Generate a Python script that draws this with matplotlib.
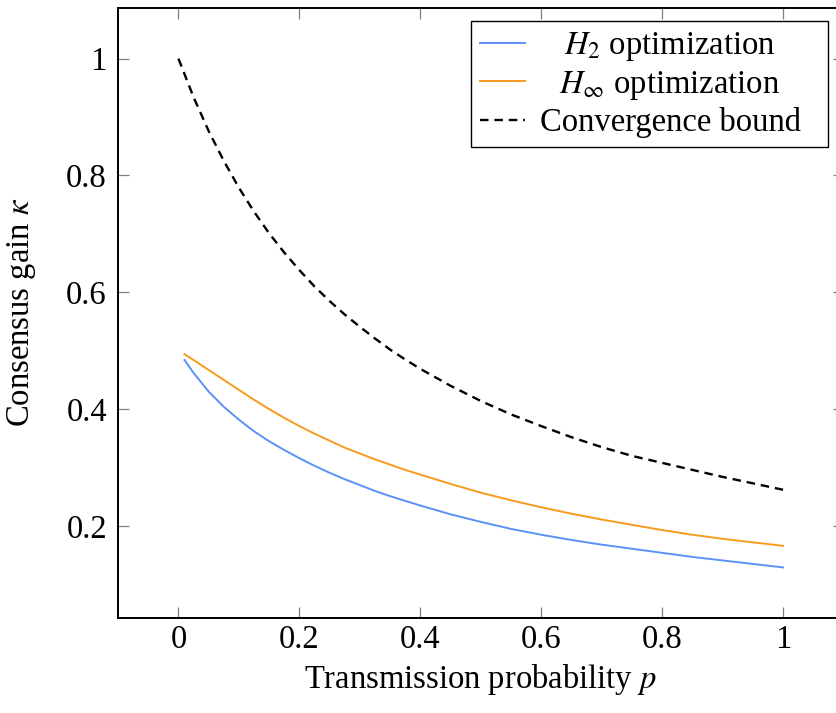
import matplotlib
matplotlib.use("Agg")
import matplotlib.pyplot as plt
from matplotlib.lines import Line2D

plt.rcParams["font.family"] = ["Liberation Serif", "DejaVu Serif"]
plt.rcParams["mathtext.fontset"] = "stix"

# Transmission probability grids
p_bound = [0.000, 0.025, 0.050, 0.075, 0.100, 0.125, 0.150, 0.175, 0.200, 0.225,
           0.250, 0.275, 0.300, 0.325, 0.350, 0.375, 0.400, 0.450, 0.500, 0.550,
           0.600, 0.650, 0.700, 0.750, 0.800, 0.850, 0.900, 0.950, 1.000]
p_opt = [0.010, 0.025, 0.050, 0.075, 0.100, 0.125, 0.150, 0.175, 0.200, 0.225,
         0.250, 0.275, 0.300, 0.325, 0.350, 0.375, 0.400, 0.450, 0.500, 0.550,
         0.600, 0.650, 0.700, 0.750, 0.800, 0.850, 0.900, 0.950, 1.000]

# Consensus gain curves
kappa_h2 = [0.484, 0.462, 0.430, 0.404, 0.382, 0.362, 0.345, 0.330, 0.316, 0.303,
            0.291, 0.280, 0.270, 0.260, 0.251, 0.243, 0.235, 0.220, 0.207, 0.195,
            0.185, 0.176, 0.168, 0.161, 0.154, 0.147, 0.141, 0.135, 0.129]
kappa_hinf = [0.494, 0.484, 0.467, 0.450, 0.433, 0.416, 0.400, 0.385, 0.371, 0.358,
              0.346, 0.334, 0.324, 0.314, 0.305, 0.296, 0.288, 0.272, 0.257, 0.244,
              0.232, 0.221, 0.211, 0.202, 0.193, 0.185, 0.178, 0.172, 0.166]
kappa_bound = [1.000, 0.934, 0.876, 0.825, 0.779, 0.738, 0.701, 0.668, 0.638, 0.610,
               0.585, 0.562, 0.541, 0.521, 0.502, 0.485, 0.469, 0.440, 0.414, 0.391,
               0.371, 0.352, 0.335, 0.320, 0.308, 0.296, 0.284, 0.273, 0.262]

x_ticks = [0, 0.2, 0.4, 0.6, 0.8, 1]
x_ticklabels = ["0", "0.2", "0.4", "0.6", "0.8", "1"]
y_ticks = [0.2, 0.4, 0.6, 0.8, 1]
y_ticklabels = ["0.2", "0.4", "0.6", "0.8", "1"]

labels = [r"$H_2$ optimization", r"$H_\infty$ optimization", "Convergence bound"]

c_h2 = "#5b92f6"
c_hinf = "#f79b1f"
FS = 23.5
DASH = (0, (3.6, 2.5))

fig = plt.figure(figsize=(8.36, 7.13), dpi=100)
W, H = 836, 713
left, right, top, bottom = 118, 843.5, 8, 617.5
aw, ah = right - left, bottom - top
ax = fig.add_axes([left / W, 1 - bottom / H, aw / W, ah / H])

ax.plot(p_opt, kappa_h2, color=c_h2, lw=1.4)
ax.plot(p_opt, kappa_hinf, color=c_hinf, lw=1.4)
ax.plot(p_bound, kappa_bound, color="black", lw=1.7, linestyle=DASH)

ax.set_xlim(-0.1, 1.1)
ax.set_ylim(0.0433, 1.0867)
ax.set_xticks(x_ticks)
ax.set_xticklabels(x_ticklabels)
ax.set_yticks(y_ticks)
ax.set_yticklabels(y_ticklabels)

for s in ax.spines.values():
    s.set_linewidth(1.4)
    s.set_color("black")

ax.tick_params(axis="both", which="major", direction="in", length=7.9, width=0.9,
               color="#7f7f7f", top=True, right=True, labelsize=FS)
ax.tick_params(axis="x", pad=5.0)
ax.tick_params(axis="y", pad=8.0)

ax.set_xlabel(r"Transmission probability $p$", fontsize=FS)
ax.set_ylabel(r"Consensus gain $\kappa$", fontsize=FS)
ax.xaxis.set_label_coords(0.5, -(662 - bottom) / ah)
ax.yaxis.set_label_coords(-(118 - 38) / aw, 0.5)

# legend frame: x 471..828 px, top edge at 21 px
lg_left, lg_right, lg_top = 471, 828, 21
handles = [Line2D([], [], color=c_h2, lw=1.4),
           Line2D([], [], color=c_hinf, lw=1.4),
           Line2D([], [], color="black", lw=1.7, linestyle=DASH)]
BP, HL, HTP = 0.28, 1.38, 0.08
leg = ax.legend(handles, labels, loc="upper right",
                bbox_to_anchor=((lg_left - left) / aw, 0.5,
                                (lg_right - lg_left) / aw, 0.5 - (lg_top - top) / ah),
                mode="expand", borderaxespad=0, fontsize=FS, frameon=True,
                fancybox=False, framealpha=1, edgecolor="black",
                handlelength=HL, handletextpad=HTP, borderpad=BP, labelspacing=0.17)
leg.get_frame().set_linewidth(1.0)

# centre the legend texts on a common vertical axis
fs_px = FS * 100 / 72
col_left = lg_left + fs_px * (BP + HL + HTP)
centre = 670
renderer = fig.canvas.get_renderer()
for t in leg.get_texts():
    w = t.get_window_extent(renderer).width
    t.set_x(centre - col_left - w / 2)

fig.savefig("out.png", dpi=100)
